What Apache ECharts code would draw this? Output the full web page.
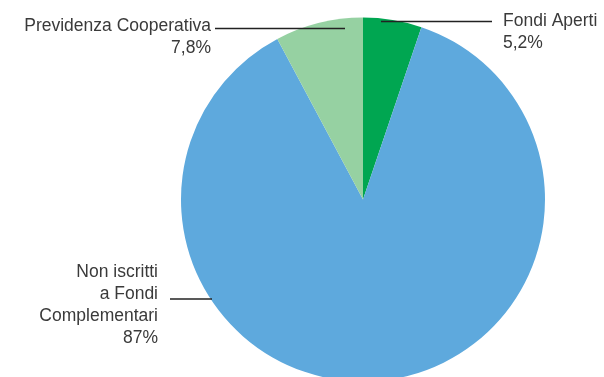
<!DOCTYPE html>
<html>
<head>
<meta charset="utf-8">
<style>
  html, body { margin: 0; padding: 0; background: #fff; }
  #chart { width: 604px; height: 377px; }
</style>
<script src="https://cdn.jsdelivr.net/npm/echarts@6/dist/echarts.min.js"></script>
</head>
<body>
<div id="chart"></div>
<script>
// Iscritti per tipologia di fondo (quote percentuali)
const categories = ['Fondi Aperti', 'Non iscritti\na Fondi\nComplementari', 'Previdenza Cooperativa'];
const shares = [5.2, 87, 7.8];
const sliceColors = ['#00a651', '#5ea9dd', '#96d1a2'];

// Label placement: text anchor and leader line for each slice
const labelPlacement = [
  { x: 503, y: 32, align: 'left', line: [[381, 21.5], [492, 21.5]] },
  { x: 158, y: 305, align: 'right', line: [[170, 299], [212, 299]] },
  { x: 211, y: 37, align: 'right', line: [[215, 28.5], [345, 28.5]] }
];

function formatShare(v) {
  return (Number.isInteger(v) ? String(v) : v.toFixed(1).replace('.', ',')) + '%';
}

const chart = echarts.init(document.getElementById('chart'), null, { renderer: 'canvas' });
chart.setOption({
  animation: false,
  // Leader lines are drawn on top of the slices
  graphic: labelPlacement.map(pl => ({
    type: 'polyline',
    z: 100,
    silent: true,
    shape: { points: pl.line },
    style: { stroke: '#222', lineWidth: 1.3, fill: null }
  })),
  series: [{
    type: 'pie',
    center: [363, 199.5],
    radius: 182,
    startAngle: 90,
    clockwise: true,
    avoidLabelOverlap: false,
    silent: true,
    data: categories.map((name, i) => ({
      name: name,
      value: shares[i],
      itemStyle: { color: sliceColors[i] }
    })),
    itemStyle: { borderWidth: 0 },
    label: {
      show: true,
      position: 'outside',
      formatter: p => p.name + '\n' + formatShare(p.value),
      fontFamily: 'Liberation Sans, Arial, sans-serif',
      fontSize: 17.5,
      lineHeight: 22,
      color: '#3a3a3a'
    },
    labelLine: { show: false },
    labelLayout: function (params) {
      const pl = labelPlacement[params.dataIndex];
      return {
        x: pl.x,
        y: pl.y,
        align: pl.align,
        verticalAlign: 'middle'
      };
    }
  }]
});
</script>
</body>
</html>
